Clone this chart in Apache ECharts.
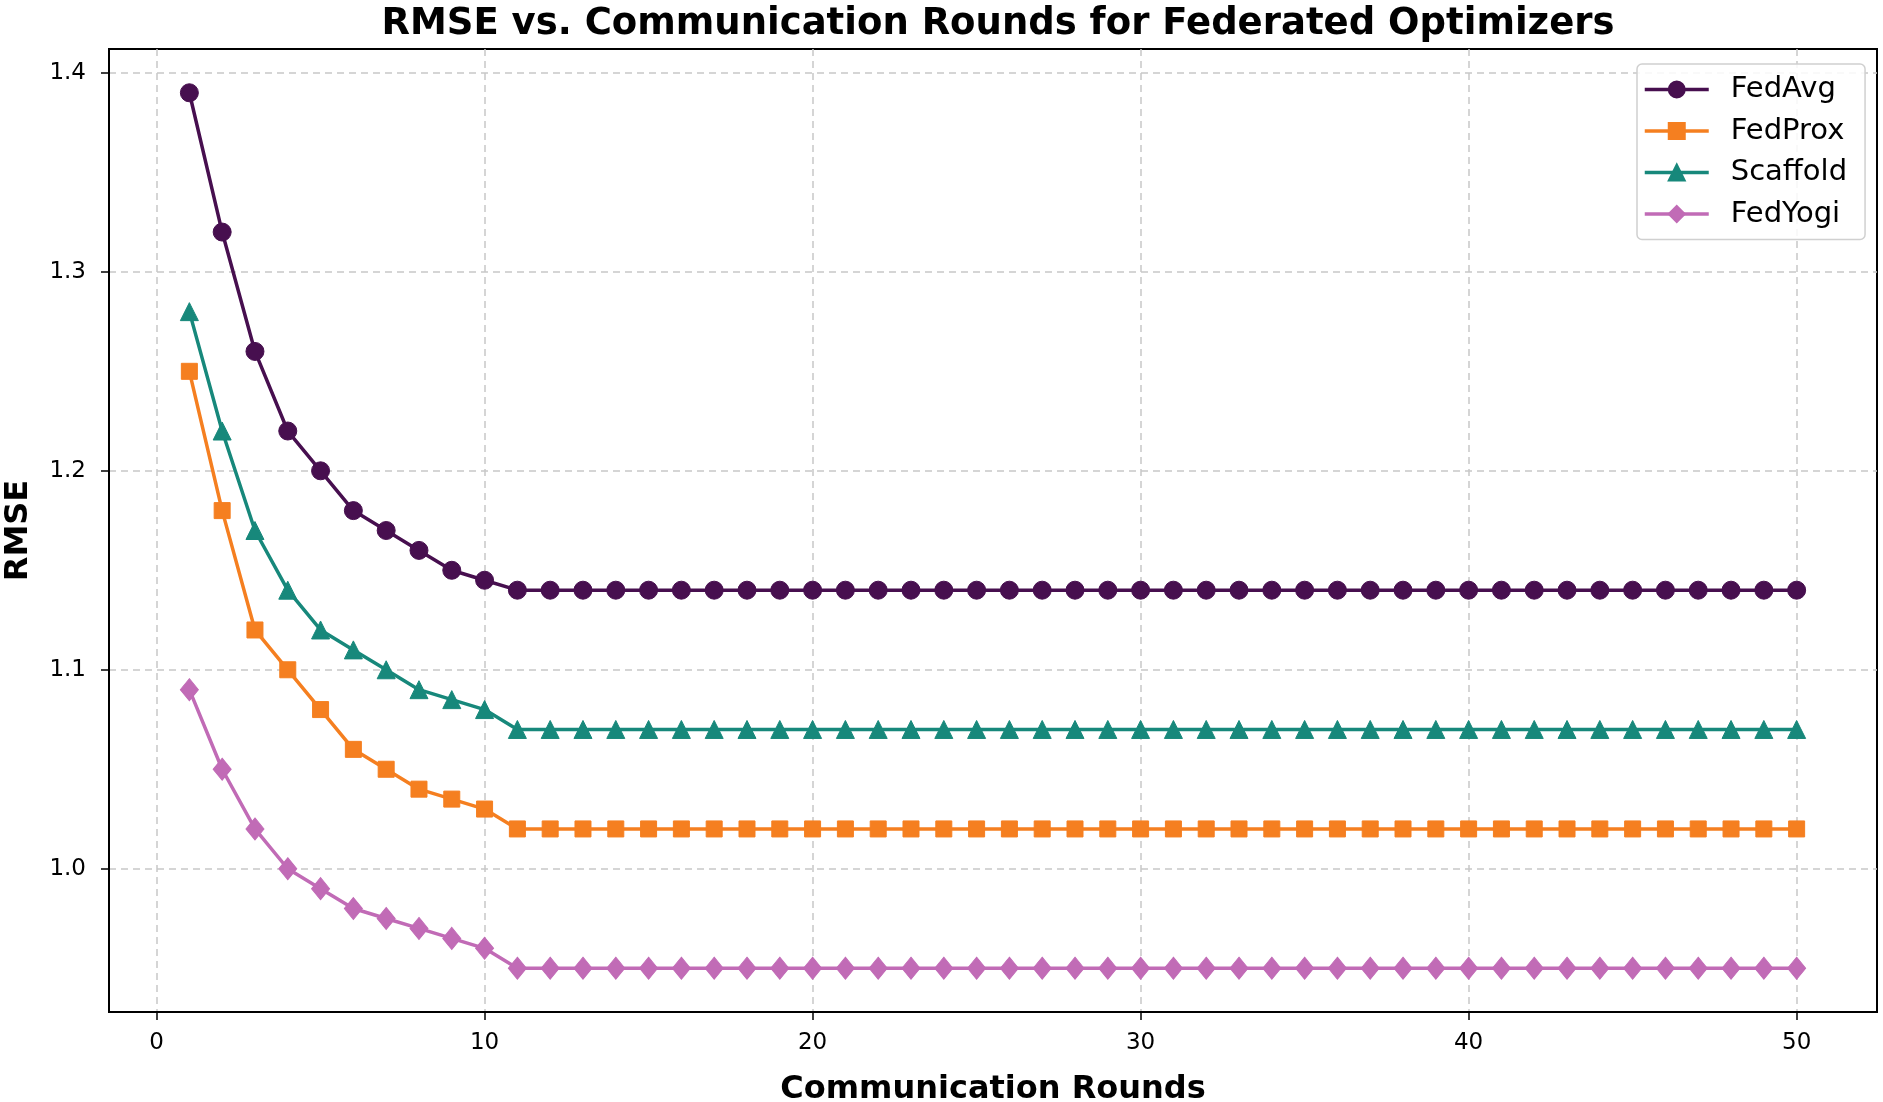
<!DOCTYPE html>
<html>
<head>
<meta charset="utf-8">
<script src="https://cdn.jsdelivr.net/npm/echarts@6/dist/echarts.min.js"></script>
<style>
html,body{margin:0;padding:0;background:#fff;}
#chart{width:1883px;height:1102px;}
</style>
</head>
<body>
<div id="chart"></div>
<script>
const rounds = Array.from({length: 50}, (_, i) => i + 1);
const fedAvg   = [1.39, 1.32, 1.26, 1.22, 1.20, 1.18, 1.17, 1.16, 1.15, 1.145,
  1.14,1.14,1.14,1.14,1.14,1.14,1.14,1.14,1.14,1.14,
  1.14,1.14,1.14,1.14,1.14,1.14,1.14,1.14,1.14,1.14,
  1.14,1.14,1.14,1.14,1.14,1.14,1.14,1.14,1.14,1.14,
  1.14,1.14,1.14,1.14,1.14,1.14,1.14,1.14,1.14,1.14];
const fedProx  = [1.25, 1.18, 1.12, 1.10, 1.08, 1.06, 1.05, 1.04, 1.035, 1.03,
  1.02,1.02,1.02,1.02,1.02,1.02,1.02,1.02,1.02,1.02,
  1.02,1.02,1.02,1.02,1.02,1.02,1.02,1.02,1.02,1.02,
  1.02,1.02,1.02,1.02,1.02,1.02,1.02,1.02,1.02,1.02,
  1.02,1.02,1.02,1.02,1.02,1.02,1.02,1.02,1.02,1.02];
const scaffold = [1.28, 1.22, 1.17, 1.14, 1.12, 1.11, 1.10, 1.09, 1.085, 1.08,
  1.07,1.07,1.07,1.07,1.07,1.07,1.07,1.07,1.07,1.07,
  1.07,1.07,1.07,1.07,1.07,1.07,1.07,1.07,1.07,1.07,
  1.07,1.07,1.07,1.07,1.07,1.07,1.07,1.07,1.07,1.07,
  1.07,1.07,1.07,1.07,1.07,1.07,1.07,1.07,1.07,1.07];
const fedYogi  = [1.09, 1.05, 1.02, 1.00, 0.99, 0.98, 0.975, 0.97, 0.965, 0.96,
  0.95,0.95,0.95,0.95,0.95,0.95,0.95,0.95,0.95,0.95,
  0.95,0.95,0.95,0.95,0.95,0.95,0.95,0.95,0.95,0.95,
  0.95,0.95,0.95,0.95,0.95,0.95,0.95,0.95,0.95,0.95,
  0.95,0.95,0.95,0.95,0.95,0.95,0.95,0.95,0.95,0.95];
const xTicks = [0, 10, 20, 30, 40, 50];
const yTicks = [1.0, 1.1, 1.2, 1.3, 1.4];

const FONT = 'DejaVu Sans';
const chart = echarts.init(document.getElementById('chart'));

function pairs(ys){ return rounds.map((x, i) => [x, ys[i]]); }
function mkSeries(name, ys, color, symbol, size){
  return {
    name, type: 'line', data: pairs(ys), symbol, symbolSize: size,
    lineStyle: {color, width: 3.5},
    itemStyle: {color, borderColor: color, borderWidth: 1},
    showSymbol: true, animation: false, z: 3
  };
}

const gridLine = {show: true, lineStyle: {color: '#c8c8c8', width: 1.5, type: [7, 5]}};

chart.setOption({
  backgroundColor: '#fff',
  animation: false,
  title: {
    text: 'RMSE vs. Communication Rounds for Federated Optimizers',
    left: 993, textAlign: 'center', top: 1,
    textStyle: {fontFamily: FONT, fontWeight: 'bold', fontSize: 37, color: '#000'}
  },
  grid: {left: 109, top: 49, width: 1768, height: 963, show: true,
         containLabel: false, outerBoundsMode: 'none',
         borderColor: '#000', borderWidth: 2, backgroundColor: 'transparent'},
  legend: {
    orient: 'vertical', left: 1637, top: 64,
    padding: [11, 18, 11, 6], itemGap: 12.5, itemWidth: 64, itemHeight: 20,
    borderColor: '#d0d0d0', borderWidth: 1.5, borderRadius: 5, backgroundColor: 'rgba(255,255,255,0.85)',
    lineStyle: {width: 3.5},
    textStyle: {fontFamily: FONT, fontSize: 29, color: '#000', padding: [0, 0, 0, 17]},
    data: ['FedAvg', 'FedProx', 'Scaffold', 'FedYogi']
  },
  xAxis: {
    type: 'value', min: -1.45, max: 52.45,
    name: 'Communication Rounds', nameLocation: 'middle', nameGap: 62,
    nameTextStyle: {fontFamily: FONT, fontWeight: 'bold', fontSize: 32, color: '#000'},
    axisLine: {show: true, onZero: false, lineStyle: {color: '#000', width: 2}},
    axisTick: {show: true, inside: false, length: 8, customValues: xTicks, lineStyle: {color: '#000', width: 1.5}},
    axisLabel: {customValues: xTicks, margin: 20, fontFamily: FONT, fontSize: 23, color: '#000'},
    splitLine: gridLine
  },
  yAxis: {
    type: 'value', min: 0.928, max: 1.412,
    name: 'RMSE', nameLocation: 'middle', nameGap: 74, nameRotate: 90,
    nameTextStyle: {fontFamily: FONT, fontWeight: 'bold', fontSize: 32, color: '#000'},
    axisLine: {show: true, onZero: false, lineStyle: {color: '#000', width: 2}},
    axisTick: {show: true, inside: false, length: 8, customValues: yTicks, lineStyle: {color: '#000', width: 1.5}},
    axisLabel: {customValues: yTicks, margin: 23, fontFamily: FONT, fontSize: 23, color: '#000',
                formatter: v => v.toFixed(1)},
    splitLine: gridLine
  },
  series: [
    mkSeries('FedAvg', fedAvg, '#470f4f', 'circle', 18),
    mkSeries('FedProx', fedProx, '#f57f20', 'rect', 16),
    mkSeries('Scaffold', scaffold, '#17887b', 'triangle', 18),
    mkSeries('FedYogi', fedYogi, '#c16bb6', 'diamond', [18, 22])
  ]
});
</script>
</body>
</html>
